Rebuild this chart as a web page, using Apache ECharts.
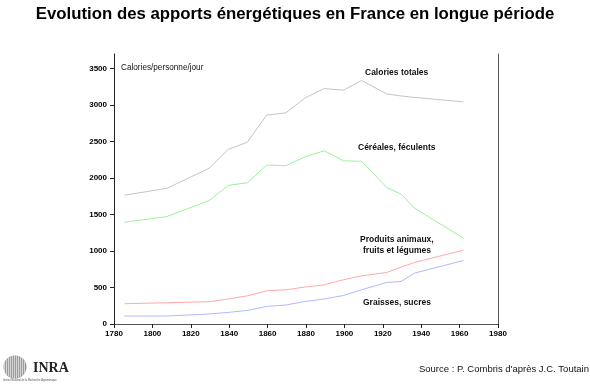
<!DOCTYPE html>
<html>
<head>
<meta charset="utf-8">
<script src="https://cdn.jsdelivr.net/npm/echarts@6/dist/echarts.min.js"></script>
<style>
html,body{margin:0;padding:0;background:#fff;}
#chart{width:590px;height:387px;}
</style>
</head>
<body>
<div id="chart"></div>
<script>
// Data (years are mid-points of Toutain's periods)
var years = [1785.5, 1807.5, 1829.5, 1839.5, 1849.5, 1859.5, 1869.5, 1879.5, 1889.5, 1899.5, 1909, 1922, 1929.5, 1936.5, 1962];
var caloriesTotales = [1765, 1859, 2133, 2392, 2493, 2862, 2893, 3098, 3227, 3204, 3336, 3153, 3125, 3105, 3044];
var cereales = [1395, 1471, 1690, 1900, 1936, 2178, 2169, 2292, 2374, 2237, 2229, 1873, 1781, 1586, 1176];
var produitsAnimaux = [278, 291, 305, 342, 387, 455, 469, 506, 537, 606, 660, 706, 779, 843, 1012];
var graissesSucres = [109, 109, 137, 159, 186, 241, 260, 309, 342, 391, 469, 569, 583, 697, 870];
var yTicks = [0, 500, 1000, 1500, 2000, 2500, 3000, 3500];
var xTicks = [1780, 1800, 1820, 1840, 1860, 1880, 1900, 1920, 1940, 1960, 1980];

function pairs(vals){ return years.map(function(y,i){ return [y, vals[i]]; }); }

var chart = echarts.init(document.getElementById('chart'), null, {renderer:'canvas'});
var font = 'Liberation Sans, Arial, sans-serif';
function line(name, vals, color){
  return {name:name, type:'line', data:pairs(vals), symbol:'none', smooth:false,
    lineStyle:{color:color, width:1}, itemStyle:{color:color}, animation:false, z:3};
}
function plain(v){ return String(v); }

// INRA logo stripes
var logoChildren = [];
var cx = 15, cy = 367, r = 11.5;
logoChildren.push({type:'circle', shape:{cx:cx, cy:cy, r:r}, style:{fill:'#9a9a9a'}});
for (var dx = -r + 1; dx < r; dx += 2) {
  var h = Math.sqrt(r*r - dx*dx);
  logoChildren.push({type:'line', shape:{x1:cx+dx, y1:cy-h, x2:cx+dx, y2:cy+h}, style:{stroke:'#e6e6e6', lineWidth:0.8}});
}
logoChildren.push({type:'text', left:33, top:361, style:{text:'INRA', font:'bold 14px Liberation Serif, serif', fill:'#222'}});
logoChildren.push({type:'text', left:3, top:378.5, style:{text:'Institut National de la Recherche Agronomique', font:'2.6px ' + font, fill:'#555'}});

var option = {
  backgroundColor:'#fff',
  animation:false,
  title:{text:'Evolution des apports énergétiques en France en longue période', left:'center', top:1,
    textStyle:{fontFamily:font, fontWeight:'bold', fontSize:16.8, color:'#000'}},
  grid:{left:114, right:92, top:54, bottom:63, containLabel:false},
  xAxis:[{
    type:'value', min:1780, max:1980, interval:20, position:'bottom',
    axisLine:{show:true, lineStyle:{color:'#222', width:1}},
    axisTick:{show:true, length:4, lineStyle:{color:'#222'}},
    axisLabel:{color:'#000', fontFamily:font, fontWeight:'bold', fontSize:8, margin:6,
      customValues: xTicks, formatter: plain},
    splitLine:{show:false}
  },{
    type:'value', min:1780, max:1980, position:'top',
    axisLine:{show:true, lineStyle:{color:'#555', width:1}},
    axisTick:{show:false}, axisLabel:{show:false}, splitLine:{show:false}
  }],
  yAxis:[{
    type:'value', min:0, max:3700, position:'left',
    axisLine:{show:true, lineStyle:{color:'#222', width:1}},
    axisTick:{show:true, length:4, lineStyle:{color:'#222'}, customValues: yTicks},
    axisLabel:{color:'#000', fontFamily:font, fontWeight:'bold', fontSize:8, margin:7, customValues: yTicks, formatter: plain},
    splitLine:{show:false}
  },{
    type:'value', min:0, max:3700, position:'right',
    axisLine:{show:true, lineStyle:{color:'#555', width:1}},
    axisTick:{show:false}, axisLabel:{show:false}, splitLine:{show:false}
  }],
  series:[
    line('Calories totales', caloriesTotales, '#c4c4c4'),
    line('Céréales, féculents', cereales, '#9ef09e'),
    line('Produits animaux, fruits et légumes', produitsAnimaux, '#ffaaaa'),
    line('Graisses, sucres', graissesSucres, '#b0b8ff')
  ],
  graphic:[
    {type:'text', left:121, top:64, style:{text:'Calories/personne/jour', font:'8.2px ' + font, fill:'#111'}},
    {type:'text', left:365, top:68.5, style:{text:'Calories totales', font:'bold 8.5px ' + font, fill:'#111'}},
    {type:'text', left:358, top:143, style:{text:'Céréales, féculents', font:'bold 8.5px ' + font, fill:'#111'}},
    {type:'text', left:360, top:235, style:{text:'Produits animaux,', font:'bold 8.5px ' + font, fill:'#111'}},
    {type:'text', left:363, top:246, style:{text:'fruits et légumes', font:'bold 8.5px ' + font, fill:'#111'}},
    {type:'text', left:363, top:298.5, style:{text:'Graisses, sucres', font:'bold 8.5px ' + font, fill:'#111'}},
    {type:'text', right:1, top:364.5, style:{text:"Source : P. Combris d'après J.C. Toutain", font:'9.5px ' + font, fill:'#111'}},
    {type:'group', children:logoChildren}
  ]
};
chart.setOption(option);
</script>
</body>
</html>
